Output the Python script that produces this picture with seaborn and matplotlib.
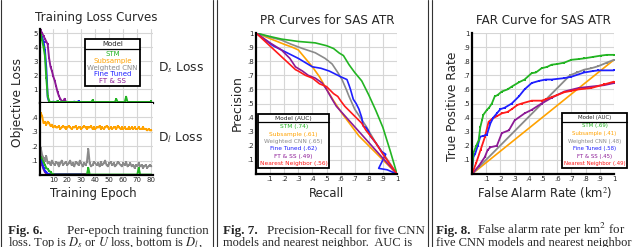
import numpy as np
import pandas as pd
import seaborn as sns
import matplotlib.pyplot as plt
from matplotlib.lines import Line2D

# ---------------- dados ----------------
modelos = ["STM", "Subsample", "Weighted CNN", "Fine Tuned", "FT & SS"]
cores = {"STM": "#22b422", "Subsample": "#ffa200", "Weighted CNN": "#8a8a8a",
         "Fine Tuned": "#1f1fff", "FT & SS": "#8c1a96", "Nearest Neighbor": "#ff1a1a"}

epocas = list(range(1, 81))

# perda D_s (topo)
stm_ds = [4.9, 4.5, 4.0, 3.4, 1.8, 0.5, 0.15, 0.06, 0.05, 0.05,
          0.08, 0.05, 0.12, 0.06, 0.05, 0.10, 0.05, 0.06, 0.05, 0.05,
          0.06, 0.05, 0.07, 0.05, 0.05, 0.08, 0.05, 0.06, 0.05, 0.07,
          0.05, 0.05, 0.06, 0.05, 0.05, 0.07, 0.05, 0.20, 0.06, 0.05,
          0.05, 0.06, 0.05, 0.05, 0.07, 0.05, 0.05, 0.06, 0.05, 0.05,
          0.06, 0.05, 0.05, 0.08, 0.28, 0.05, 0.06, 0.05, 0.05, 0.07,
          0.05, 0.45, 0.06, 0.05, 0.05, 0.06, 0.05, 0.05, 0.07, 0.05,
          0.05, 0.06, 0.05, 0.05, 0.06, 0.05, 0.05, 0.06, 0.05, 0.12]
ft_ds = [4.8, 4.7, 4.4, 3.8, 2.5, 0.4, 0.08, 0.06, 0.05, 0.10,
         0.06, 0.05, 0.15, 0.05, 0.07, 0.05, 0.06, 0.08, 0.05, 0.06,
         0.05, 0.07, 0.05, 0.06, 0.10, 0.05, 0.08, 0.12, 0.06, 0.05]
ftss_ds = [5.2, 5.0, 4.8, 4.6, 4.4, 4.2, 3.2, 2.6, 2.3, 1.9,
           1.6, 1.2, 0.8, 0.5, 0.3, 0.15, 0.10, 0.30, 0.10, 0.05]

# perda D_l (baixo)
sub_dl = [0.43, 0.41, 0.36, 0.37, 0.35, 0.37, 0.36, 0.34, 0.35, 0.33,
          0.34, 0.33, 0.33, 0.34, 0.32, 0.33, 0.34, 0.33, 0.32, 0.33,
          0.34, 0.33, 0.32, 0.33, 0.33, 0.34, 0.32, 0.33, 0.33, 0.32,
          0.33, 0.34, 0.33, 0.32, 0.33, 0.33, 0.34, 0.32, 0.33, 0.32,
          0.33, 0.33, 0.34, 0.32, 0.33, 0.32, 0.33, 0.34, 0.33, 0.32,
          0.33, 0.32, 0.33, 0.33, 0.32, 0.34, 0.33, 0.32, 0.33, 0.32,
          0.33, 0.32, 0.32, 0.33, 0.32, 0.33, 0.32, 0.33, 0.32, 0.32,
          0.33, 0.32, 0.32, 0.33, 0.32, 0.32, 0.31, 0.32, 0.31, 0.31]
wcnn_dl = [0.19, 0.14, 0.12, 0.10, 0.13, 0.08, 0.09, 0.07, 0.10, 0.08,
           0.07, 0.09, 0.08, 0.06, 0.08, 0.10, 0.07, 0.08, 0.09, 0.07,
           0.08, 0.10, 0.07, 0.08, 0.06, 0.09, 0.08, 0.07, 0.10, 0.08,
           0.06, 0.08, 0.07, 0.09, 0.18, 0.08, 0.06, 0.07, 0.09, 0.08,
           0.07, 0.08, 0.06, 0.09, 0.07, 0.08, 0.10, 0.07, 0.06, 0.08,
           0.09, 0.07, 0.08, 0.06, 0.07, 0.09, 0.08, 0.07, 0.06, 0.08,
           0.07, 0.09, 0.06, 0.07, 0.08, 0.06, 0.07, 0.05, 0.07, 0.06,
           0.08, 0.06, 0.07, 0.05, 0.06, 0.07, 0.05, 0.06, 0.07, 0.06]
stm_dl = [0.15, 0.12, 0.09, 0.07, 0.05, 0.04, 0.03, 0.02, 0.01, 0.005,
          0.003, 0.003, 0.003, 0.003, 0.003, 0.003, 0.003, 0.003, 0.003, 0.003,
          0.003, 0.003, 0.003, 0.003, 0.003, 0.003, 0.003, 0.003, 0.003, 0.003,
          0.003, 0.003, 0.003, 0.003, 0.05, 0.003, 0.003, 0.003, 0.003, 0.003,
          0.003, 0.003, 0.003, 0.003, 0.003, 0.003, 0.003, 0.003, 0.003, 0.003,
          0.003, 0.003, 0.003, 0.003, 0.003, 0.003, 0.003, 0.003, 0.003, 0.003,
          0.003, 0.003, 0.003, 0.003, 0.003, 0.003, 0.003, 0.003, 0.003, 0.003,
          0.05, 0.003, 0.003, 0.003, 0.003, 0.003, 0.003, 0.003, 0.003, 0.003]
ft_dl = [0.12, 0.09, 0.05, 0.03, 0.02, 0.01, 0.005, 0.004, 0.003, 0.003,
         0.003, 0.003, 0.003, 0.003, 0.003, 0.003, 0.003, 0.003, 0.003, 0.003,
         0.003, 0.003, 0.003, 0.003, 0.003, 0.003, 0.003, 0.003, 0.003, 0.003]
ftss_dl = [0.13, 0.07, 0.04, 0.02, 0.01, 0.006, 0.004, 0.004, 0.004, 0.004,
           0.004, 0.004, 0.004, 0.004, 0.004, 0.004, 0.004, 0.004, 0.004, 0.004,
           0.004, 0.004, 0.004, 0.004, 0.004, 0.004, 0.004, 0.004, 0.004, 0.004,
           0.004, 0.004, 0.004, 0.004, 0.004]

# curvas PR (recall, precision)
pr_stm_r = [0, .1, .18, .3, .42, .5, .55, .59, .62, .66, .7, .75, .8, .85, .9, .95, 1]
pr_stm_p = [1, .975, .957, .94, .93, .91, .89, .858, .84, .775, .72, .66, .56, .45, .33, .17, 0]
pr_sub_r = [0, .1, .2, .255, .3, .35, .4, .45, .49, .55, .61, .67, .73, .8, .85, .92, 1]
pr_sub_p = [1, .96, .92, .9, .88, .82, .76, .69, .62, .52, .43, .35, .27, .2, .15, .08, 0]
pr_wcnn_r = [0, .1, .18, .25, .33, .42, .49, .54, .58, .61, .64, .66, .7, .74, .78, .85, .92, 1]
pr_wcnn_p = [1, .97, .95, .92, .89, .86, .82, .78, .72, .67, .6, .55, .46, .4, .34, .22, .12, 0]
pr_ft_r = [0, .066, .12, .18, .24, .3, .35, .4, .46, .52, .56, .6, .645, .66, .67, .69, .71,
           .73, .75, .76, .78, .8, .81, .85, .89, .92, .9, .88, .87, .93, 1]
pr_ft_p = [1, .95, .91, .88, .85, .82, .79, .76, .75, .73, .71, .69, .67, .63, .60, .53, .5,
           .46, .40, .34, .33, .30, .27, .22, .16, .14, .1, .06, .04, .03, 0]
pr_ftss_r = [0, .1, .18, .24, .28, .33, .37, .42, .47, .5, .54, .57, 1]
pr_ftss_p = [1, .93, .88, .82, .76, .73, .70, .68, .645, .6, .53, .48, 0]
pr_nn_r = [0, .28, .3, .35, .4, .45, .5, .52, .55, .58, .6, .63, .66, .7, .75, .78, .82, .85, .9, .95, 1]
pr_nn_p = [1, .74, .73, .7, .68, .64, .62, .60, .57, .55, .52, .48, .45, .41, .36, .31, .26, .22, .14, .07, 0]

# curvas FAR (taxa de falso alarme, TPR)
far_stm_x = [0, .01, .03, .047, .058, .07, .08, .105, .12, .14, .16, .18, .21, .25, .28, .33,
             .37, .42, .45, .49, .53, .56, .6, .65, .7, .75, .79, .85, .91, .95, 1]
far_stm_y = [.02, .15, .2, .24, .33, .38, .42, .455, .47, .5, .55, .56, .585, .6, .62, .65,
             .67, .715, .72, .75, .76, .775, .78, .79, .81, .815, .82, .83, .84, .845, .845]
far_sub_x = [0, 1]
far_sub_y = [0, .81]
far_wcnn_x = [0, .69, .74, .79, .84, .89, .95, 1]
far_wcnn_y = [0, .70, .72, .74, .75, .765, .79, .81]
far_ft_x = [0, .01, .023, .04, .058, .08, .105, .13, .15, .175, .2, .23, .28, .33, .37, .42,
            .47, .52, .56, .65, .70, .79, .85, .89, 1]
far_ft_y = [.03, .12, .145, .2, .265, .27, .28, .36, .4, .43, .46, .47, .5, .55, .6, .645,
            .66, .67, .67, .68, .69, .72, .73, .735, .735]
far_ftss_x = [0, .05, .09, .11, .13, .175, .21, .26, .30, .37, .42, .49, .56, .65, .75, .84, .93, 1]
far_ftss_y = [0, .06, .12, .17, .19, .20, .29, .31, .38, .43, .455, .50, .54, .585, .61, .62, .63, .645]
far_nn_x = [0, .03, .06, .09, .117, .14, .175, .21, .25, .28, .32, .35, .42, .49, .52, .56,
            .6, .65, .7, .75, .84, .93, 1]
far_nn_y = [0, .08, .17, .26, .37, .39, .41, .43, .44, .46, .49, .50, .52, .52, .53, .545,
            .56, .58, .59, .60, .61, .635, .655]

auc_pr = {"STM": ".74", "Subsample": ".61", "Weighted CNN": ".65",
          "Fine Tuned": ".62", "FT & SS": ".49", "Nearest Neighbor": ".56"}
auc_far = {"STM": ".69", "Subsample": ".41", "Weighted CNN": ".48",
           "Fine Tuned": ".58", "FT & SS": ".45", "Nearest Neighbor": ".49"}

ticks01 = [.1, .2, .3, .4, .5, .6, .7, .8, .9, 1]
ticks01_lbl = [".1", ".2", ".3", ".4", ".5", ".6", ".7", ".8", ".9", "1"]
ticks_ep = [10, 20, 30, 40, 50, 60, 70, 80]
ticks_ds = [1, 2, 3, 4, 5]
ticks_dl = [.1, .2, .3, .4]
ticks_dl_lbl = [".1", ".2", ".3", ".4"]

# ---------------- estilo ----------------
sns.set_style("whitegrid", {"grid.color": "#d6d6d6", "axes.edgecolor": "black"})
plt.rcParams['font.family'] = ['DejaVu Sans']
plt.rcParams['mathtext.fontset'] = 'stix'

W, H = 640, 247
fig = plt.figure(figsize=(6.4, 2.47), dpi=100)


def px_axes(x0, y0, x1, y1):
    return fig.add_axes([x0 / W, 1 - y1 / H, (x1 - x0) / W, (y1 - y0) / H])


def estilo(ax):
    for s in ["top", "right"]:
        ax.spines[s].set_visible(False)
    for s in ["left", "bottom"]:
        ax.spines[s].set_color("black")
        ax.spines[s].set_linewidth(1.6)
    ax.grid(True, lw=0.8, color="#d6d6d6")
    ax.tick_params(length=0, labelsize=5, pad=1.5)


def linha(ax, x, y, cor, lw=1.4, ms=1.8):
    sns.lineplot(x=x, y=y, ax=ax, color=cor, lw=lw, marker="s", markersize=ms,
                 markeredgewidth=0, sort=False, estimator=None, legend=False)


def legenda(ax, nomes, titulo, loc, anchor, fs, esp, pad=0.3):
    hs = [Line2D([], [], color="none") for _ in nomes]
    leg = ax.legend(hs, nomes, title=titulo, loc=loc, bbox_to_anchor=anchor,
                    fontsize=fs, title_fontsize=fs, labelcolor=[cores[n.split(" (")[0]] for n in nomes],
                    handlelength=0, handletextpad=0, frameon=True, fancybox=False,
                    edgecolor="black", framealpha=1, borderpad=pad, labelspacing=esp,
                    borderaxespad=0)
    leg.get_frame().set_linewidth(1.3)
    leg._legend_box.sep = fs * 0.6
    for col in leg._legend_handle_box.get_children():
        col.align = "center"
    return leg


# ---------------- Fig. 6 ----------------
ax_t = px_axes(40, 29, 153, 103)
ax_b = px_axes(40, 103, 153, 175)
for ax in (ax_t, ax_b):
    estilo(ax)
    ax.set_xlim(0.5, 81.2)
    ax.set_xticks(ticks_ep)

linha(ax_t, epocas[:len(ftss_ds)], ftss_ds, cores["FT & SS"])
linha(ax_t, epocas[:len(ft_ds)], ft_ds, cores["Fine Tuned"])
linha(ax_t, epocas, stm_ds, cores["STM"])
ax_t.set_ylim(0, 5.3)
ax_t.set_yticks(ticks_ds)
ax_t.set_xticklabels([])

linha(ax_b, epocas[:len(ftss_dl)], ftss_dl, cores["FT & SS"])
linha(ax_b, epocas[:len(ft_dl)], ft_dl, cores["Fine Tuned"])
linha(ax_b, epocas, stm_dl, cores["STM"])
linha(ax_b, epocas, sub_dl, cores["Subsample"])
linha(ax_b, epocas, wcnn_dl, cores["Weighted CNN"])
ax_b.set_ylim(0, 0.5)
ax_b.set_yticks(ticks_dl)
ax_b.set_yticklabels(ticks_dl_lbl)
ax_b.set_xticklabels([str(t) for t in ticks_ep])

leg1 = legenda(ax_t, modelos, "Model", "upper left", (0.40, 0.865), 5.0, 0.1, pad=0.3)

fig.text(96 / W, 1 - 18 / H, "Training Loss Curves", fontsize=8.6, ha="center", va="center")
fig.text(18 / W, 1 - 102 / H, "Objective Loss", fontsize=8.8, rotation=90, ha="center", va="center")
fig.text(93 / W, 1 - 193 / H, "Training Epoch", fontsize=8.5, ha="center", va="center")
fig.text(158 / W, 1 - 68 / H, "D$_s$ Loss", fontsize=8.8, ha="left", va="center")
fig.text(158 / W, 1 - 138 / H, "D$_l$ Loss", fontsize=8.8, ha="left", va="center")

# ---------------- Fig. 7 ----------------
ax_pr = px_axes(256, 33, 397, 174)
estilo(ax_pr)
linha(ax_pr, pr_sub_r, pr_sub_p, cores["Subsample"], lw=1.2, ms=0)
linha(ax_pr, pr_wcnn_r, pr_wcnn_p, cores["Weighted CNN"], lw=1.2, ms=0)
linha(ax_pr, pr_stm_r, pr_stm_p, cores["STM"], lw=1.2, ms=0)
linha(ax_pr, pr_ft_r, pr_ft_p, cores["Fine Tuned"], lw=1.2, ms=0)
linha(ax_pr, pr_ftss_r, pr_ftss_p, cores["FT & SS"], lw=1.2, ms=0)
linha(ax_pr, pr_nn_r, pr_nn_p, cores["Nearest Neighbor"], lw=1.2, ms=0)
ax_pr.set_xlim(0, 1)
ax_pr.set_ylim(0, 1)
ax_pr.set_xticks(ticks01)
ax_pr.set_xticklabels(ticks01_lbl)
ax_pr.set_yticks(ticks01)
ax_pr.set_yticklabels(ticks01_lbl)
nomes_pr = [f"{n} ({auc_pr[n]})" for n in modelos + ["Nearest Neighbor"]]
leg2 = legenda(ax_pr, nomes_pr, "Model (AUC)", "lower left", (0.014, 0.043), 4.2, 0.4)

fig.text(327 / W, 1 - 20 / H, "PR Curves for SAS ATR", fontsize=8.6, ha="center", va="center")
fig.text(237 / W, 1 - 103 / H, "Precision", fontsize=9, rotation=90, ha="center", va="center")
fig.text(327 / W, 1 - 193 / H, "Recall", fontsize=8.5, ha="center", va="center")

# ---------------- Fig. 8 ----------------
ax_far = px_axes(472, 33, 614, 174)
estilo(ax_far)
linha(ax_far, far_sub_x, far_sub_y, cores["Subsample"], lw=1.2, ms=0)
linha(ax_far, far_wcnn_x, far_wcnn_y, cores["Weighted CNN"], lw=1.3)
linha(ax_far, far_ftss_x, far_ftss_y, cores["FT & SS"], lw=1.3)
linha(ax_far, far_nn_x, far_nn_y, cores["Nearest Neighbor"], lw=1.3)
linha(ax_far, far_ft_x, far_ft_y, cores["Fine Tuned"], lw=1.3)
linha(ax_far, far_stm_x, far_stm_y, cores["STM"], lw=1.3)
ax_far.set_xlim(0, 1)
ax_far.set_ylim(0, 1)
ax_far.set_xticks(ticks01)
ax_far.set_xticklabels(ticks01_lbl)
ax_far.set_yticks(ticks01)
ax_far.set_yticklabels(ticks01_lbl)
nomes_far = [f"{n} ({auc_far[n]})" for n in modelos + ["Nearest Neighbor"]]
leg3 = legenda(ax_far, nomes_far, "Model (AUC)", "lower left", (0.634, 0.043), 3.9, 0.48)

fig.text(543 / W, 1 - 20 / H, "FAR Curve for SAS ATR", fontsize=8.6, ha="center", va="center")
fig.text(453 / W, 1 - 106 / H, "True Positive Rate", fontsize=8.8, rotation=90, ha="center", va="center")
fig.text(545 / W, 1 - 193 / H, "False Alarm Rate (km$^2$)", fontsize=8.4, ha="center", va="center")

# ---------------- legendas: linha abaixo do titulo ----------------
fig.canvas.draw()
inv = fig.transFigure.inverted()
for leg in (leg1, leg2, leg3):
    fb = leg.get_frame().get_window_extent()
    tb = leg.get_title().get_window_extent()
    t0 = leg.get_texts()[0].get_window_extent()
    y = (tb.y0 + t0.y1) / 2
    (x0, yy), (x1, _) = inv.transform([(fb.x0, y), (fb.x1, y)])
    fig.add_artist(Line2D([x0, x1], [yy, yy], transform=fig.transFigure, color="black", lw=0.9))

# ---------------- molduras e legendas das figuras ----------------
for xv in [1, 212.5, 216.5, 427.5, 431.5]:
    fig.add_artist(Line2D([xv / W, xv / W], [0, 1], transform=fig.transFigure, color="#333333", lw=0.8))

serif = ["Liberation Serif", "DejaVu Serif"]
yl1 = 1 - 234 / H
yl2 = 1 - 246 / H
fs_cap = 9.4
fig.text(8 / W, yl1, "Fig. 6.", fontsize=fs_cap, family=serif, weight="bold", va="baseline")
fig.text(209 / W, yl1, "Per-epoch training function", fontsize=fs_cap, family=serif, ha="right", va="baseline")
fig.text(8 / W, yl2, "loss. Top is $D_s$ or $U$ loss, bottom is $D_l$,", fontsize=9.0, family=serif, va="baseline")

fig.text(223 / W, yl1, "Fig. 7.", fontsize=fs_cap, family=serif, weight="bold", va="baseline")
fig.text(425 / W, yl1, "Precision-Recall for five CNN", fontsize=fs_cap, family=serif, ha="right", va="baseline")
fig.text(223 / W, yl2, "models and nearest neighbor.  AUC is", fontsize=9.0, family=serif, va="baseline")

fig.text(436 / W, yl1, "Fig. 8.", fontsize=fs_cap, family=serif, weight="bold", va="baseline")
fig.text(477 / W, yl1, "False alarm rate per km$^2$ for", fontsize=fs_cap, family=serif, va="baseline")
fig.text(436 / W, yl2, "five CNN models and nearest neighbor", fontsize=9.0, family=serif, va="baseline")

plt.savefig("out.png", dpi=100)
